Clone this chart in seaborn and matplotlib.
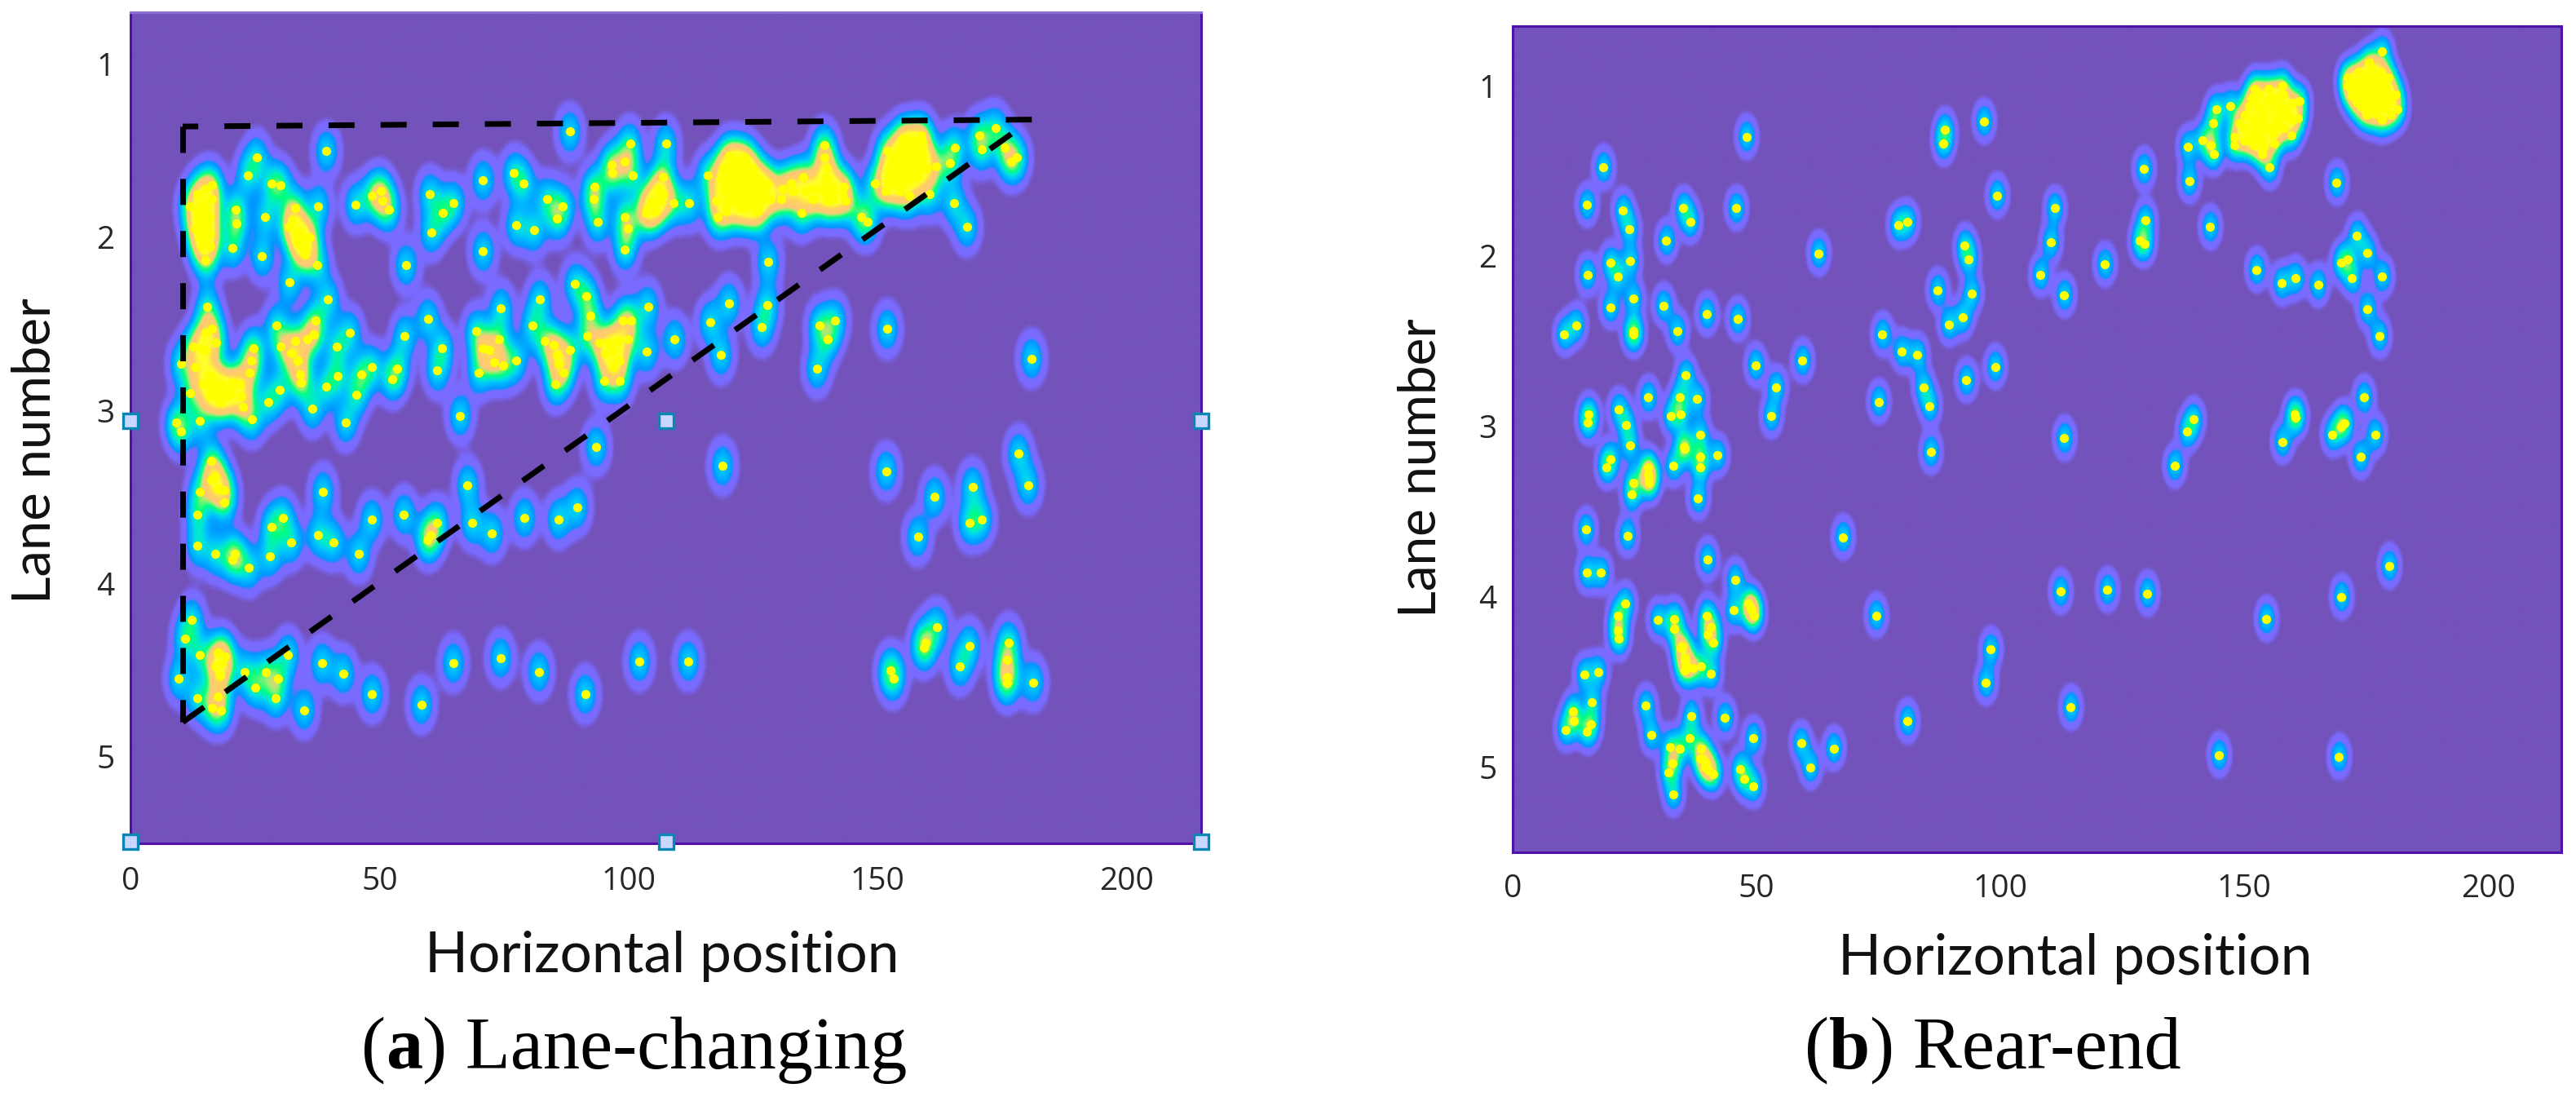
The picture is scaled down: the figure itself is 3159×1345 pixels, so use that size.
import numpy as np
import pandas as pd
import matplotlib
matplotlib.use("Agg")
import matplotlib.pyplot as plt
from matplotlib.colors import LinearSegmentedColormap
import seaborn as sns

W, H = 3159, 1345
X_TICKS = [0, 50, 100, 150, 200]
Y_TICKS = [1, 2, 3, 4, 5]
X_LABEL = "Horizontal position"
Y_LABEL = "Lane number"
CAPTIONS = [("(", "a", ") Lane-changing"), ("(", "b", ") Rear-end")]

lc_x = [88.2,39.3,25.3,23.5,100.3,107.5,28.4,30.2,16.3,70.8,77.0,79,60.1,64.9,96.6,99.3,96.8,100.8,93.2,93,93.8,107.0,112.2,115.9,83.6,86.8,85.6,77.5,81,45.2,50.2,48.5,51.9,50.6,62.7,60.4,12,13.4,16.3,15.9,15.9,14.2,15.1,21.1,21.3,20.5,27.1,37.7,33.1,31.8,33.5,35.1,37.5,26.4,31.9,70.8,55.3,99.3,99.9,99.3,103.7,106.2,109.1,118.7,120.2,123.3,122.9,117.5,117.9,122.5,125.9,127.1,128.1,
        89.3,91.6,82.2,74.4,92.4,59.7,39.7,15.4,16.3,29.3,37.1,36.8,35.6,44,41.4,30.2,32.2,33.5,34.1,34.3,55,62.6,61.6,48.5,46.3,53.6,52.5,41.6,39.3,45.4,30,27.6,36.5,43.2,69.4,70.7,70,74,77.4,74.9,80.7,83.2,85.7,88.2,87,85.3,91.7,94.1,96,95.3,99.9,98.3,98.3,95.1,98.9,100.5,103.9,103.7,109.3,120.2,116.4,118.6,127.9,126.8,24.7,24.3,23.9,12.6,14.2,10.1,15.9,17.2,18,20.5,22.2,22.6,24.4,14,9.2,10.2,17.2,
        16.2,16.2,14,18.8,18.8,13.5,13.5,17.1,20.5,21,23.8,28,32.2,28.3,30.6,38.6,37.7,40.7,48.4,45.8,54.9,61.6,60.2,59.6,67.7,68.6,72.6,79.1,85.9,89.7,93.5,118.9,66.2,
        12.3,10.9,9.7,14,13.5,16.3,18.2,18.4,17.6,18,17.6,23,27.2,29.6,25.1,29.1,31.6,38.4,42.7,34.8,48.5,58.4,64.8,74.3,82.0,91.3,102.2,112,
        122.6,122.6,125.7,127.9,128.5,125.7,130.7,132.6,135.1,135.4,133.2,134.7,139.3,139.3,139.8,139.8,139,139.8,143.3,143.6,146.7,148,149.5,151.9,155,158.9,151.7,152.7,154.5,156.4,157.1,158.9,160.5,161.8,155.8,164.5,165.5,165.4,168,170.5,170.9,173.7,175.6,176.8,178,152,138.4,141.5,140,137.9,181,
        151.8,161.5,158.1,169.1,170.9,168.5,178.4,180.3,162,159.6,159.3,152.6,153.2,168.5,166.6,176.4,176,176,176.1,181.3]
lc_y = [1.39,1.50,1.54,1.64,1.46,1.46,1.69,1.70,1.70,1.67,1.63,1.69,1.75,1.80,1.58,1.56,1.63,1.64,1.71,1.78,1.91,1.65,1.80,1.64,1.78,1.82,1.89,1.93,1.96,1.81,1.73,1.76,1.84,1.79,1.86,1.97,1.82,1.85,1.78,1.88,1.98,2.05,2.13,1.84,1.92,2.06,1.88,1.82,1.83,1.94,2.03,2.06,2.16,2.11,2.26,2.08,2.16,1.88,1.95,2.07,1.84,1.79,1.80,1.66,1.53,1.54,1.66,1.79,1.88,1.83,1.85,1.69,2.14,
        2.27,2.34,2.36,2.41,2.45,2.47,2.36,2.40,2.53,2.51,2.48,2.56,2.59,2.55,2.63,2.63,2.67,2.71,2.79,2.84,2.57,2.64,2.77,2.75,2.79,2.76,2.82,2.80,2.86,2.91,2.88,2.95,2.99,3.07,2.54,2.64,2.78,2.59,2.71,2.74,2.51,2.60,2.68,2.65,2.78,2.85,2.57,2.61,2.61,2.67,2.59,2.71,2.83,2.83,2.48,2.48,2.40,2.66,2.59,2.38,2.49,2.68,2.39,2.52,2.64,2.71,2.78,2.63,2.64,2.73,2.84,2.89,2.95,2.84,2.92,2.98,3.05,3.06,3.07,3.12,2.61,
        3.29,3.40,3.47,3.46,3.53,3.60,3.78,3.83,3.86,3.83,3.91,3.84,3.76,3.67,3.62,3.47,3.72,3.76,3.63,3.83,3.60,3.65,3.72,3.75,3.43,3.65,3.71,3.62,3.63,3.56,3.21,3.32,3.03,
        4.21,4.32,4.55,4.41,4.66,4.72,4.73,4.46,4.40,4.53,4.65,4.51,4.51,4.55,4.60,4.66,4.41,4.46,4.52,4.73,4.64,4.70,4.46,4.43,4.51,4.64,4.45,4.45,
        1.63,1.83,1.71,1.69,1.78,1.85,1.78,1.69,1.65,1.73,1.73,1.86,1.47,1.54,1.60,1.66,1.73,1.79,1.71,1.79,1.88,1.91,1.69,1.50,1.43,1.41,1.73,1.64,1.73,1.76,1.63,1.51,1.75,1.59,1.54,1.57,1.48,1.80,1.94,1.41,1.49,1.37,1.48,1.56,1.54,2.53,2.51,2.48,2.59,2.76,2.70,
        3.35,3.50,3.73,3.44,3.63,3.65,3.25,3.43,4.25,4.34,4.37,4.50,4.55,4.36,4.48,4.34,4.44,4.54,4.57,4.57]
# estimated points inside the saturated yellow areas of panel (a)
lc_dense_x = [13,14.5,15,14,16,13.5,15,32.5,33.5,34.5,35,36,119,121,123,125,119,121,123,125,120,124,127,121,124,119.5,104.5,105.5,107,106,103.5,131,137,141,143,141,137,153,155,157,153,155,157,159,155,158,160,152,156,159,16,18,19,16,14.5,20,22,12,15,15,13,97,98,97,72,73,85,86,33,17.5,17,17,19]
lc_dense_y = [1.95,1.85,1.93,2.0,2.05,1.75,1.72,1.9,1.97,2.0,2.1,2.0,1.6,1.6,1.6,1.6,1.72,1.72,1.72,1.75,1.8,1.8,1.75,1.56,1.65,1.85,1.8,1.85,1.75,1.72,1.86,1.72,1.72,1.72,1.75,1.78,1.78,1.55,1.5,1.45,1.62,1.6,1.55,1.45,1.68,1.65,1.6,1.68,1.46,1.58,2.8,2.85,2.92,2.92,2.85,2.9,2.85,2.9,2.55,2.65,2.75,2.65,2.6,2.75,2.65,2.72,2.62,2.73,2.6,3.45,3.38,4.48,4.42]

re_x = [18.6,47.9,88.6,88.3,96.6,99.3,111.1,110.3,108.2,113.1,121.4,129.4,129.7,128.6,129.5,15.2,22.6,23.9,35,36.4,31.5,45.8,62.7,79,81,92.7,93.5,87.1,94.1,92.3,89.4,15.3,20,24.1,21.5,24.7,20,24.7,24.7,13,10.6,30.9,33.7,39.8,46.1,49.8,54,53,59.4,75.8,79.8,83,84.2,85.5,75,93,98.9,113.1,15.6,15.4,21.7,23.3,24,27.8,35.5,34.2,37.8,32.5,34.5,38.4,35.1,
        35.2,42,38.4,38.4,33,38,20,19.2,27.7,27.7,28,24.8,24.4,15,23.5,67.7,39.9,15.2,18.1,45.6,45.3,48.4,48.8,49.5,23.1,21.6,21.5,21.8,29.8,33.1,33.1,34.8,35.2,35.2,38.6,40.7,39.8,40.6,41.2,14.7,17.5,16.3,12.3,12.6,10.8,15.2,16,27.3,28.4,36.6,36.3,43.5,49.3,32.3,34.3,32.8,32,32.9,38.6,39.5,40.3,41.2,46.6,47.4,49.4,59.1,61,65.8,80.9,98,97,85.7,74.5,112.3,121.9,130.1,114.4,
        138.4,138.7,144.2,147.2,143.6,141.5,143.1,143.7,143,148,148,150.8,152.2,150.1,152.9,153.6,153.3,153.6,156.1,155.2,159.6,161.4,161,157.8,156.4,158.5,156.4,151.5,
        178.3,175.6,171.2,173.3,175.4,179.6,181,178.9,174,178.2,181.4,176.1,171.2,178.2,168.9,152.5,157.6,160.5,165.1,169.8,171.2,173.1,175.2,172.1,178.3,175.2,177.7,
        139.6,138.3,135.7,160.3,160.5,157.8,170.5,169.8,168,174.5,176.8,173.8,179.7,169.9,154.5,144.8,169.4]
re_y = [1.48,1.30,1.26,1.34,1.21,1.645,1.72,1.92,2.11,2.23,2.05,1.49,1.79,1.91,1.93,1.70,1.73,1.84,1.72,1.80,1.91,1.72,1.985,1.82,1.80,1.94,2.02,2.20,2.22,2.36,2.40,2.11,2.04,2.03,2.12,2.25,2.30,2.44,2.46,2.405,2.46,2.29,2.44,2.34,2.37,2.64,2.77,2.94,2.615,2.46,2.56,2.58,2.77,2.88,2.855,2.73,2.65,3.07,2.93,2.975,2.90,2.99,3.11,2.83,2.70,2.83,2.84,2.94,2.93,3.05,3.12,
        3.13,3.17,3.18,3.24,3.23,3.42,3.19,3.24,3.24,3.285,3.33,3.33,3.40,3.605,3.64,3.65,3.78,3.86,3.86,3.90,4.08,4.04,4.07,4.11,4.04,4.11,4.20,4.245,4.135,4.13,4.19,4.29,4.36,4.43,4.41,4.45,4.11,4.18,4.27,4.455,4.44,4.62,4.67,4.73,4.78,4.79,4.75,4.64,4.81,4.70,4.83,4.71,4.83,4.88,4.89,4.98,5.03,5.16,4.89,4.97,5.02,5.04,5.01,5.07,5.11,4.86,5.0,4.89,4.73,4.31,4.505,3.15,4.11,3.97,3.96,3.98,4.65,
        1.36,1.56,1.14,1.12,1.22,1.32,1.35,1.40,1.83,1.30,1.35,1.32,1.02,1.17,1.12,1.20,1.32,1.40,1.34,1.48,1.29,1.09,1.19,1.00,1.07,1.14,1.23,1.07,
        0.80,0.86,0.95,0.92,1.00,0.95,1.05,1.09,1.12,1.20,1.14,1.14,1.00,0.99,1.57,2.08,2.16,2.13,2.17,2.04,2.02,1.88,1.98,2.13,2.12,2.31,2.47,
        2.96,3.03,3.23,2.93,2.95,3.09,2.98,3.00,3.05,2.83,3.05,3.18,3.82,4.00,4.13,4.93,4.94]
# estimated points inside the saturated yellow areas of panel (b)
re_dense_x = [150,152,154,156,158,160,152,155,157,159,151,153,155,149,154,156,152,158,160,150,155,157,153,173,175,177,179,172,174,176,178,180,173,175,177,179,175,177,180,176,178,172,174,34.5,35.5,40,28,39.5,38.5,49,37]
re_dense_y = [1.25,1.2,1.15,1.1,1.05,1.1,1.28,1.25,1.2,1.18,1.12,1.05,1.02,1.22,1.36,1.28,1.35,1.25,1.2,1.32,1.08,1.13,1.26,1.0,.95,.95,1.02,1.06,1.05,1.03,1.05,1.08,1.1,1.1,1.1,1.13,1.17,1.16,1.17,.9,.92,1.0,.97,4.3,4.4,4.22,3.3,5.0,4.95,4.08,4.42]

corner_x = [181.0, 10.5, 10.5, 178.0]
corner_y = [1.32, 1.36, 4.80, 1.38]
handle_x = [0, 107.5, 215]
handle_y = [3.06, 5.49]

sns.set_theme(style="white")
plt.rcParams["font.family"] = ["Open Sans", "DejaVu Sans"]

density_cmap = LinearSegmentedColormap.from_list("density", [
    (0.000, "#7352BB"), (0.008, "#7352BB"), (0.028, "#7A6BFF"), (0.07, "#7A6BFF"),
    (0.095, "#0096FF"), (0.17, "#00BFFF"), (0.23, "#00E6D8"), (0.30, "#00FF80"),
    (0.37, "#9CEF70"), (0.42, "#FFC878"), (0.58, "#FFD062"), (0.72, "#FFFF28"), (1.0, "#FFFF00")])

def px_rect(l, t, r, b):
    return [l / W, 1 - b / H, (r - l) / W, (b - t) / H]

def draw_panel(rect, xs, ys, xlim, ylim, sx, sy, xpad, ypad):
    ax = fig.add_axes(px_rect(*rect))
    xs = np.asarray(xs, float); ys = np.asarray(ys, float)
    gx = np.linspace(xlim[0], xlim[1], 1300)
    gy = np.linspace(ylim[1], ylim[0], 1000)
    ex = np.exp(-0.5 * ((gx[None, :] - xs[:, None]) / sx) ** 2)
    ey = np.exp(-0.5 * ((gy[None, :] - ys[:, None]) / sy) ** 2)
    z = ey.T @ ex
    ax.imshow(z, extent=[xlim[0], xlim[1], ylim[0], ylim[1]], origin="upper",
              aspect="auto", cmap=density_cmap, vmin=0, vmax=5, interpolation="bilinear", zorder=1)
    sns.scatterplot(data=pd.DataFrame({"x": xs, "y": ys}), x="x", y="y", color="#FFFF00",
                    s=64, linewidth=0, ax=ax, zorder=3)
    ax.set_xlim(*xlim); ax.set_ylim(*ylim)
    ax.set_xticks(X_TICKS); ax.set_yticks(Y_TICKS)
    ax.set_xlabel(""); ax.set_ylabel("")
    ax.tick_params(axis="x", length=0, pad=xpad, labelsize=28, labelcolor="#262626")
    ax.tick_params(axis="y", length=0, pad=ypad, labelsize=28, labelcolor="#262626")
    for s in ax.spines.values():
        s.set_color("#4E12A8"); s.set_linewidth(2.2); s.set_zorder(5)
    return ax

fig = plt.figure(figsize=(W / 100, H / 100), dpi=100, facecolor="white")
ax_a = draw_panel((160, 15, 1473, 1034), lc_x + lc_dense_x, lc_y + lc_dense_y, (0, 215), (5.5, 0.7), 1.6, 0.085, 20, 14)
ax_b = draw_panel((1855, 32, 3141, 1045), re_x + re_dense_x, re_y + re_dense_y, (0, 215), (5.5, 0.65), 1.25, 0.066, 19, 14)
ax_a.spines["top"].set_color("#8A70D0")

dash = (0, (4.6, 4.6))
for i in range(3):
    seg = pd.DataFrame({"x": corner_x[i:i + 2], "y": corner_y[i:i + 2]})
    if i == 2:
        seg = pd.DataFrame({"x": [corner_x[1], corner_x[3]], "y": [corner_y[2], corner_y[3]]})
    sns.lineplot(data=seg, x="x", y="y", sort=False, estimator=None, color="black",
                 linewidth=5, linestyle=dash, ax=ax_a, zorder=4, legend=False)
ax_a.set_xlabel(""); ax_a.set_ylabel("")
ax_a.set_xlim(0, 215); ax_a.set_ylim(5.5, 0.7)

for hy in handle_y:
    for hx in handle_x:
        ax_a.plot([hx], [hy], marker="s", ms=12.5, mfc="#C9D6FF", mec="#0A86B4", mew=2.4,
                  clip_on=False, zorder=6, ls="none")

LABEL_FONT = ["Lato", "DejaVu Sans"]
fig.text(812 / W, 1 - 1192 / H, X_LABEL, ha="center", va="baseline", fontsize=50, family=LABEL_FONT, color="#111111")
fig.text(2545 / W, 1 - 1195 / H, X_LABEL, ha="center", va="baseline", fontsize=50, family=LABEL_FONT, color="#111111")
fig.text(43 / W, 1 - 553 / H, Y_LABEL, rotation=90, ha="center", va="center", fontsize=47, family=LABEL_FONT, color="#111111")
fig.text(1742 / W, 1 - 574 / H, Y_LABEL, rotation=90, ha="center", va="center", fontsize=46, family=LABEL_FONT, color="#111111")

renderer = fig.canvas.get_renderer()
def caption(parts, cx, base):
    serif = ["Liberation Serif", "DejaVu Serif"]
    texts = [fig.text(0, 1 - base / H, p, fontsize=65, family=serif, va="baseline",
                      weight="bold" if i == 1 else "normal", color="black") for i, p in enumerate(parts)]
    widths = [t.get_window_extent(renderer).width for t in texts]
    x = cx - sum(widths) / 2
    for t, w in zip(texts, widths):
        t.set_x(x / W); x += w

caption(CAPTIONS[0], 778, 1310)
caption(CAPTIONS[1], 2444, 1310)

fig.savefig("out.png", dpi=100, facecolor="white")
